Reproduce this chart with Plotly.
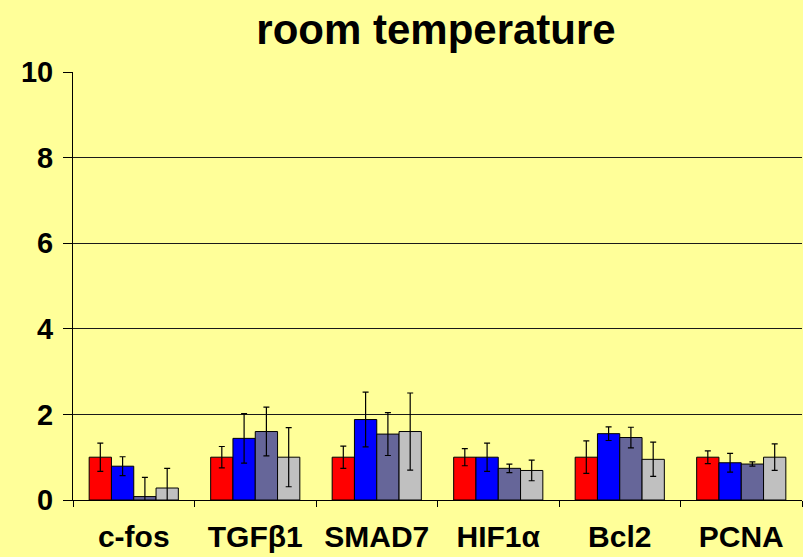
import plotly.graph_objects as go

# Genes on the x axis
genes = ["c-fos", "TGF\u03b21", "SMAD7", "HIF1\u03b1", "Bcl2", "PCNA"]

# Relative expression for the four conditions, with their error margins
cond1 = [1.00, 1.00, 1.00, 1.00, 1.00, 1.00]
cond1_err = [0.33, 0.25, 0.26, 0.20, 0.38, 0.15]

cond2 = [0.79, 1.44, 1.88, 1.00, 1.55, 0.87]
cond2_err = [0.22, 0.58, 0.64, 0.33, 0.16, 0.22]

cond3 = [0.08, 1.60, 1.54, 0.74, 1.46, 0.84]
cond3_err = [0.45, 0.57, 0.50, 0.10, 0.24, 0.05]

cond4 = [0.28, 1.00, 1.60, 0.69, 0.95, 1.00]
cond4_err = [0.46, 0.69, 0.90, 0.24, 0.40, 0.31]

series = [
    (cond1, cond1_err, "#FF0000"),
    (cond2, cond2_err, "#0000FF"),
    (cond3, cond3_err, "#666699"),
    (cond4, cond4_err, "#C0C0C0"),
]

BG = "#FFFF99"
FONT = "Liberation Sans, Arial, sans-serif"

fig = go.Figure()
for vals, errs, color in series:
    fig.add_trace(go.Bar(
        x=genes,
        y=vals,
        marker=dict(color=color, line=dict(color="#000000", width=1)),
        error_y=dict(type="data", array=errs, visible=True,
                     color="#000000", thickness=1.2, width=3),
        showlegend=False,
    ))

fig.update_layout(
    width=803,
    height=557,
    margin=dict(l=73, r=1, t=72, b=57),
    paper_bgcolor=BG,
    plot_bgcolor=BG,
    barmode="group",
    bargap=0.266,
    bargroupgap=0,
    title=dict(
        text="room temperature",
        font=dict(family=FONT, size=42, color="#000000", weight="bold"),
        x=436 / 803, xanchor="center", xref="container",
        y=1 - 29 / 557, yanchor="middle", yref="container",
    ),
    xaxis=dict(
        type="category",
        tickson="boundaries",
        ticks="outside",
        ticklen=6,
        tickcolor="#000000",
        showline=True,
        linecolor="#000000",
        linewidth=1,
        showgrid=False,
        tickfont=dict(family=FONT, size=30, color="#000000", weight="bold"),
        ticklabelstandoff=10,
    ),
    yaxis=dict(
        range=[0, 10],
        tickvals=[0, 2, 4, 6, 8, 10],
        ticks="outside",
        ticklen=9,
        tickcolor="#000000",
        showline=True,
        linecolor="#000000",
        linewidth=1,
        showgrid=True,
        gridcolor="#1a1a1a",
        gridwidth=1,
        zeroline=False,
        tickfont=dict(family=FONT, size=29, color="#000000", weight="bold"),
        ticklabelstandoff=4,
    ),
)

fig.write_html("out.html")
